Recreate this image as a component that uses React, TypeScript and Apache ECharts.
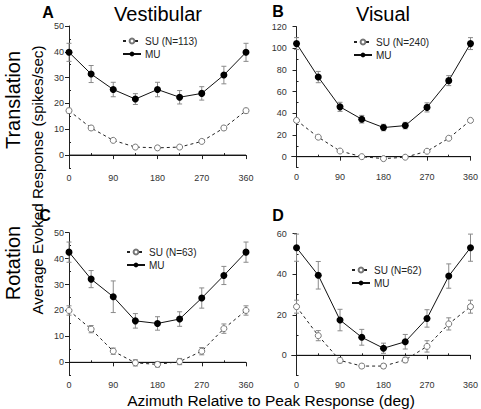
import React, { useEffect, useRef } from "react";
import * as echarts from "echarts";

const AZIMUTH = [0, 45, 90, 135, 180, 225, 270, 315, 360];
const X_MAJOR = [0, 90, 180, 270, 360];
const X_MINOR = [45, 135, 225, 315];

const A_MU = [39.8, 31.4, 25.4, 21.7, 25.4, 22.4, 23.9, 31.0, 39.8];
const A_MU_ERR = [3.5, 3.3, 2.8, 2.1, 2.8, 2.6, 2.6, 3.4, 3.5];
const A_SU = [17.2, 10.5, 5.7, 3.1, 2.8, 3.1, 5.3, 10.5, 17.2];
const A_SU_ERR = [0.9, 0.8, 0.6, 0.5, 0.5, 0.5, 0.6, 0.8, 0.9];

const B_MU = [104.4, 73.5, 46.0, 34.6, 26.9, 28.7, 45.5, 70.2, 104.4];
const B_MU_ERR = [5.5, 5.2, 4.2, 3.5, 3.0, 3.0, 4.2, 4.6, 5.5];
const B_SU = [33.5, 18.0, 5.2, 0.0, -1.8, -0.5, 5.0, 17.0, 33.5];
const B_SU_ERR = [1.0, 1.0, 0.8, 0.6, 0.6, 0.6, 0.8, 1.0, 1.0];

const C_MU = [42.5, 32.1, 25.3, 16.0, 15.0, 16.7, 24.8, 33.5, 42.5];
const C_MU_ERR = [3.9, 3.3, 6.1, 2.8, 2.6, 2.8, 3.9, 3.5, 3.9];
const C_SU = [20.0, 12.8, 4.3, -0.2, -0.8, 0.3, 4.3, 13.0, 20.0];
const C_SU_ERR = [1.8, 1.4, 1.2, 1.2, 1.0, 1.2, 1.4, 1.8, 1.8];

const D_MU = [53.1, 39.5, 17.4, 8.9, 3.5, 6.7, 18.2, 39.1, 53.1];
const D_MU_ERR = [6.7, 6.8, 5.3, 3.9, 2.5, 3.6, 4.3, 6.0, 6.7];
const D_SU = [24.0, 9.7, -2.5, -5.3, -5.3, -2.3, 4.4, 15.5, 24.0];
const D_SU_ERR = [3.2, 2.5, 1.2, 1.0, 1.0, 1.3, 2.8, 3.0, 3.2];

const SU_NAMES = ["SU (N=113)", "SU (N=240)", "SU (N=63)", "SU (N=62)"];
const PANEL_LETTERS = ["A", "B", "C", "D"];
const COLUMN_TITLES = ["Vestibular", "Visual"];
const ROW_TITLES = ["Translation", "Rotation"];
const Y_LABEL = "Average Evoked Response (spikes/sec)";
const X_LABEL = "Azimuth Relative to Peak Response (deg)";

const Y_RANGES = [
  { min: -5, max: 50, major: [0, 10, 20, 30, 40, 50], minor: [-5, 5, 15, 25, 35, 45] },
  { min: -10, max: 120, major: [0, 20, 40, 60, 80, 100, 120], minor: [-10, 10, 30, 50, 70, 90, 110] },
  { min: -5, max: 50, major: [0, 10, 20, 30, 40, 50], minor: [-5, 5, 15, 25, 35, 45] },
  { min: -10, max: 60, major: [0, 20, 40, 60], minor: [-10, 10, 30, 50] },
];
const X_MINS = [0, -10, 0, -10];

const PANELS = [
  { mu: A_MU, muErr: A_MU_ERR, su: A_SU, suErr: A_SU_ERR },
  { mu: B_MU, muErr: B_MU_ERR, su: B_SU, suErr: B_SU_ERR },
  { mu: C_MU, muErr: C_MU_ERR, su: C_SU, suErr: C_SU_ERR },
  { mu: D_MU, muErr: D_MU_ERR, su: D_SU, suErr: D_SU_ERR },
];

const GRIDS = [
  { left: 69, top: 26, width: 177, height: 142 },
  { left: 291.7, top: 26.7, width: 186.6, height: 140.8 },
  { left: 69, top: 232.7, width: 177, height: 142.6 },
  { left: 291.7, top: 233.7, width: 186.6, height: 141.9 },
];
const LEGEND_POS = [
  { left: 122, top: 36 },
  { left: 353, top: 37 },
  { left: 126, top: 247 },
  { left: 351, top: 265 },
];
const LETTER_POS = [
  { x: 48, y: 12 },
  { x: 278, y: 11 },
  { x: 45, y: 215 },
  { x: 278, y: 215 },
];

const FONT = "'Liberation Sans', Arial, sans-serif";
const AXIS_COLOR = "#222";
const LABEL_COLOR = "#333";
const ERR_COLOR = "#8a8a8a";

function errorRenderer(params: any, api: any) {
  const x = api.value(0);
  const y = api.value(1);
  const e = api.value(2);
  const p1 = api.coord([x, y + e]);
  const p2 = api.coord([x, y - e]);
  const w = 2.5;
  const style = { stroke: ERR_COLOR, lineWidth: 1 };
  return {
    type: "group",
    children: [
      { type: "line", shape: { x1: p1[0], y1: p1[1], x2: p2[0], y2: p2[1] }, style },
      { type: "line", shape: { x1: p1[0] - w, y1: p1[1], x2: p1[0] + w, y2: p1[1] }, style },
      { type: "line", shape: { x1: p2[0] - w, y1: p2[1], x2: p2[0] + w, y2: p2[1] }, style },
    ],
  };
}

function buildOption() {
  const grid: any[] = [];
  const xAxis: any[] = [];
  const yAxis: any[] = [];
  const series: any[] = [];
  const legend: any[] = [];
  const graphic: any[] = [];

  PANELS.forEach((p, i) => {
    grid.push({ ...GRIDS[i], containLabel: false });
    const xmin = X_MINS[i];
    xAxis.push({
      type: "value",
      gridIndex: i,
      min: xmin,
      max: 360,
      axisLine: { show: true, lineStyle: { color: AXIS_COLOR, width: 1 } },
      axisTick: { show: true, customValues: X_MAJOR, length: 4, lineStyle: { color: AXIS_COLOR } },
      axisLabel: { show: true, customValues: X_MAJOR, fontSize: 9, color: LABEL_COLOR, fontFamily: FONT, margin: 5 },
      splitLine: { show: false },
    });
    xAxis.push({
      type: "value",
      gridIndex: i,
      min: xmin,
      max: 360,
      axisLine: { show: false },
      axisTick: { show: true, customValues: X_MINOR, length: 2, lineStyle: { color: AXIS_COLOR } },
      axisLabel: { show: false },
      splitLine: { show: false },
    });
    const yr = Y_RANGES[i];
    yAxis.push({
      type: "value",
      gridIndex: i,
      min: yr.min,
      max: yr.max,
      axisLine: { show: true, lineStyle: { color: AXIS_COLOR, width: 1 } },
      axisTick: { show: true, customValues: yr.major, length: 4, lineStyle: { color: AXIS_COLOR } },
      axisLabel: { show: true, customValues: yr.major, fontSize: 9, color: LABEL_COLOR, fontFamily: FONT, margin: 5 },
      splitLine: { show: false },
    });
    yAxis.push({
      type: "value",
      gridIndex: i,
      min: yr.min,
      max: yr.max,
      axisLine: { show: false },
      axisTick: { show: true, customValues: yr.minor, length: 2, lineStyle: { color: AXIS_COLOR } },
      axisLabel: { show: false },
      splitLine: { show: false },
    });

    const xi = i * 2;
    const yi = i * 2;

    series.push({
      type: "line",
      xAxisIndex: xi,
      yAxisIndex: yi,
      data: [
        [0, 0],
        [360, 0],
      ],
      symbol: "none",
      silent: true,
      lineStyle: { color: "#111", width: 1 },
      z: 1,
    });
    series.push({
      type: "custom",
      xAxisIndex: xi,
      yAxisIndex: yi,
      renderItem: errorRenderer,
      data: AZIMUTH.map((a, k) => [a, p.mu[k], p.muErr[k]]),
      encode: { x: 0, y: 1 },
      silent: true,
      z: 2,
    });
    series.push({
      type: "custom",
      xAxisIndex: xi,
      yAxisIndex: yi,
      renderItem: errorRenderer,
      data: AZIMUTH.map((a, k) => [a, p.su[k], p.suErr[k]]),
      encode: { x: 0, y: 1 },
      silent: true,
      z: 2,
    });
    series.push({
      type: "line",
      name: SU_NAMES[i],
      xAxisIndex: xi,
      yAxisIndex: yi,
      data: AZIMUTH.map((a, k) => [a, p.su[k]]),
      symbol: "circle",
      symbolSize: 6,
      showAllSymbol: true,
      itemStyle: { color: "#fff", borderColor: "#777", borderWidth: 1 },
      lineStyle: { color: "#222", width: 1, type: [3, 3] },
      z: 3,
    });
    series.push({
      type: "line",
      name: "MU",
      xAxisIndex: xi,
      yAxisIndex: yi,
      data: AZIMUTH.map((a, k) => [a, p.mu[k]]),
      symbol: "circle",
      symbolSize: 7,
      showAllSymbol: true,
      itemStyle: { color: "#000", borderColor: "#000", borderWidth: 0 },
      lineStyle: { color: "#111", width: 1 },
      z: 4,
    });

    legend.push({
      ...LEGEND_POS[i],
      orient: "vertical",
      data: [SU_NAMES[i], "MU"],
      itemWidth: 18,
      itemHeight: 6,
      itemGap: 3,
      padding: 0,
      selectedMode: false,
      textStyle: { fontSize: 10, color: "#222", fontFamily: FONT, padding: [0, 0, 0, -1] },
    });

    graphic.push({
      type: "text",
      x: LETTER_POS[i].x,
      y: LETTER_POS[i].y,
      style: {
        text: PANEL_LETTERS[i],
        font: `bold 16px ${FONT}`,
        fill: "#000",
        align: "center",
        verticalAlign: "middle",
      },
    });
  });

  graphic.push(
    {
      type: "text",
      x: 158,
      y: 14,
      style: { text: COLUMN_TITLES[0], font: `20px ${FONT}`, fill: "#000", align: "center", verticalAlign: "middle" },
    },
    {
      type: "text",
      x: 383,
      y: 14,
      style: { text: COLUMN_TITLES[1], font: `20px ${FONT}`, fill: "#000", align: "center", verticalAlign: "middle" },
    },
    {
      type: "text",
      x: 13,
      y: 100,
      rotation: Math.PI / 2,
      style: { text: ROW_TITLES[0], font: `20px ${FONT}`, fill: "#000", align: "center", verticalAlign: "middle" },
    },
    {
      type: "text",
      x: 13,
      y: 263,
      rotation: Math.PI / 2,
      style: { text: ROW_TITLES[1], font: `20px ${FONT}`, fill: "#000", align: "center", verticalAlign: "middle" },
    },
    {
      type: "text",
      x: 37,
      y: 180,
      rotation: Math.PI / 2,
      style: { text: Y_LABEL, font: `15.2px ${FONT}`, fill: "#000", align: "center", verticalAlign: "middle" },
    },
    {
      type: "text",
      x: 271,
      y: 400,
      style: { text: X_LABEL, font: `15.5px ${FONT}`, fill: "#000", align: "center", verticalAlign: "middle" },
    }
  );

  return {
    animation: false,
    backgroundColor: "#fff",
    textStyle: { fontFamily: FONT },
    grid,
    xAxis,
    yAxis,
    legend,
    series,
    graphic,
  };
}

export default function App() {
  const ref = useRef<HTMLDivElement>(null);
  useEffect(() => {
    document.body.style.margin = "0";
    const chart = echarts.init(ref.current!, null, { renderer: "svg" });
    chart.setOption(buildOption() as any);
    return () => chart.dispose();
  }, []);
  return <div ref={ref} style={{ width: 481, height: 409 }} />;
}
